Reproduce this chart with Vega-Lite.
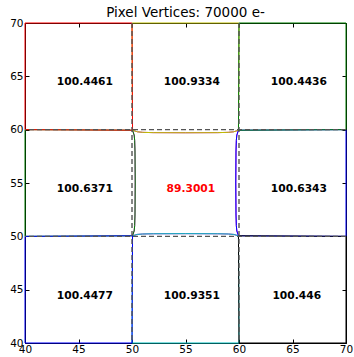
{
  "$schema": "https://vega.github.io/schema/vega-lite/v6.json",
  "width": 321,
  "height": 320,
  "autosize": {"type": "none"},
  "padding": {"left": 25, "top": 23, "right": 8, "bottom": 14},
  "title": {"text": "Pixel Vertices: 70000 e-", "font": "DejaVu Sans", "fontSize": 13.5, "fontWeight": "normal", "color": "black", "offset": -1},
  "config": {
    "view": {"stroke": "black", "strokeWidth": 1},
    "axis": {"labelFont": "DejaVu Sans", "labelFontSize": 10.5, "labelColor": "black", "tickColor": "black", "domain": false, "grid": false, "title": null, "tickSize": -4, "labelPadding": 5, "labelFlush": false, "labelOverlap": false}
  },
  "datasets": {
    "pix": [
      {"p": "c", "i": 0, "x": 50.05, "y": 50.05}, {"p": "c", "i": 1, "x": 50.5, "y": 50.18}, {"p": "c", "i": 2, "x": 51, "y": 50.22}, {"p": "c", "i": 3, "x": 52, "y": 50.24}, {"p": "c", "i": 4, "x": 55, "y": 50.25}, {"p": "c", "i": 5, "x": 58, "y": 50.24}, {"p": "c", "i": 6, "x": 59, "y": 50.22}, {"p": "c", "i": 7, "x": 59.5, "y": 50.18}, {"p": "c", "i": 8, "x": 59.95, "y": 50.05},
      {"p": "c", "i": 9, "x": 59.8, "y": 50.5}, {"p": "c", "i": 10, "x": 59.75, "y": 51}, {"p": "c", "i": 11, "x": 59.72, "y": 52}, {"p": "c", "i": 12, "x": 59.7, "y": 55}, {"p": "c", "i": 13, "x": 59.72, "y": 58}, {"p": "c", "i": 14, "x": 59.75, "y": 59}, {"p": "c", "i": 15, "x": 59.8, "y": 59.5}, {"p": "c", "i": 16, "x": 59.95, "y": 59.95},
      {"p": "c", "i": 17, "x": 59.5, "y": 59.8}, {"p": "c", "i": 18, "x": 59, "y": 59.75}, {"p": "c", "i": 19, "x": 58, "y": 59.72}, {"p": "c", "i": 20, "x": 55, "y": 59.71}, {"p": "c", "i": 21, "x": 52, "y": 59.72}, {"p": "c", "i": 22, "x": 51, "y": 59.75}, {"p": "c", "i": 23, "x": 50.5, "y": 59.8}, {"p": "c", "i": 24, "x": 50.05, "y": 59.95},
      {"p": "c", "i": 25, "x": 50.2, "y": 59.5}, {"p": "c", "i": 26, "x": 50.25, "y": 59}, {"p": "c", "i": 27, "x": 50.28, "y": 58}, {"p": "c", "i": 28, "x": 50.3, "y": 55}, {"p": "c", "i": 29, "x": 50.28, "y": 52}, {"p": "c", "i": 30, "x": 50.25, "y": 51}, {"p": "c", "i": 31, "x": 50.2, "y": 50.5}, {"p": "c", "i": 32, "x": 50.05, "y": 50.05},

      {"p": "tm", "i": 0, "x": 50, "y": 70}, {"p": "tm", "i": 1, "x": 50.05, "y": 59.95}, {"p": "tm", "i": 2, "x": 50.5, "y": 59.8}, {"p": "tm", "i": 3, "x": 51, "y": 59.75}, {"p": "tm", "i": 4, "x": 52, "y": 59.72}, {"p": "tm", "i": 5, "x": 55, "y": 59.71}, {"p": "tm", "i": 6, "x": 58, "y": 59.72}, {"p": "tm", "i": 7, "x": 59, "y": 59.75}, {"p": "tm", "i": 8, "x": 59.5, "y": 59.8}, {"p": "tm", "i": 9, "x": 59.95, "y": 59.95}, {"p": "tm", "i": 10, "x": 60, "y": 70}, {"p": "tm", "i": 11, "x": 50, "y": 70},

      {"p": "bm", "i": 0, "x": 50, "y": 40}, {"p": "bm", "i": 1, "x": 50.05, "y": 50.05}, {"p": "bm", "i": 2, "x": 50.5, "y": 50.18}, {"p": "bm", "i": 3, "x": 51, "y": 50.22}, {"p": "bm", "i": 4, "x": 52, "y": 50.24}, {"p": "bm", "i": 5, "x": 55, "y": 50.25}, {"p": "bm", "i": 6, "x": 58, "y": 50.24}, {"p": "bm", "i": 7, "x": 59, "y": 50.22}, {"p": "bm", "i": 8, "x": 59.5, "y": 50.18}, {"p": "bm", "i": 9, "x": 59.95, "y": 50.05}, {"p": "bm", "i": 10, "x": 60, "y": 40}, {"p": "bm", "i": 11, "x": 50, "y": 40},

      {"p": "ml", "i": 0, "x": 40, "y": 50}, {"p": "ml", "i": 1, "x": 50.05, "y": 50.05}, {"p": "ml", "i": 2, "x": 50.2, "y": 50.5}, {"p": "ml", "i": 3, "x": 50.25, "y": 51}, {"p": "ml", "i": 4, "x": 50.28, "y": 52}, {"p": "ml", "i": 5, "x": 50.3, "y": 55}, {"p": "ml", "i": 6, "x": 50.28, "y": 58}, {"p": "ml", "i": 7, "x": 50.25, "y": 59}, {"p": "ml", "i": 8, "x": 50.2, "y": 59.5}, {"p": "ml", "i": 9, "x": 50.05, "y": 59.95}, {"p": "ml", "i": 10, "x": 40, "y": 60}, {"p": "ml", "i": 11, "x": 40, "y": 50},

      {"p": "mr", "i": 0, "x": 70, "y": 50}, {"p": "mr", "i": 1, "x": 59.95, "y": 50.05}, {"p": "mr", "i": 2, "x": 59.8, "y": 50.5}, {"p": "mr", "i": 3, "x": 59.75, "y": 51}, {"p": "mr", "i": 4, "x": 59.72, "y": 52}, {"p": "mr", "i": 5, "x": 59.7, "y": 55}, {"p": "mr", "i": 6, "x": 59.72, "y": 58}, {"p": "mr", "i": 7, "x": 59.75, "y": 59}, {"p": "mr", "i": 8, "x": 59.8, "y": 59.5}, {"p": "mr", "i": 9, "x": 59.95, "y": 59.95}, {"p": "mr", "i": 10, "x": 70, "y": 60}, {"p": "mr", "i": 11, "x": 70, "y": 50},

      {"p": "tl", "i": 0, "x": 40, "y": 60}, {"p": "tl", "i": 1, "x": 50.05, "y": 59.95}, {"p": "tl", "i": 2, "x": 50, "y": 70}, {"p": "tl", "i": 3, "x": 40, "y": 70}, {"p": "tl", "i": 4, "x": 40, "y": 60},
      {"p": "tr", "i": 0, "x": 59.95, "y": 59.95}, {"p": "tr", "i": 1, "x": 70, "y": 60}, {"p": "tr", "i": 2, "x": 70, "y": 70}, {"p": "tr", "i": 3, "x": 60, "y": 70}, {"p": "tr", "i": 4, "x": 59.95, "y": 59.95},
      {"p": "bl", "i": 0, "x": 40, "y": 40}, {"p": "bl", "i": 1, "x": 50, "y": 40}, {"p": "bl", "i": 2, "x": 50.05, "y": 50.05}, {"p": "bl", "i": 3, "x": 40, "y": 50}, {"p": "bl", "i": 4, "x": 40, "y": 40},
      {"p": "br", "i": 0, "x": 60, "y": 40}, {"p": "br", "i": 1, "x": 70, "y": 40}, {"p": "br", "i": 2, "x": 70, "y": 50}, {"p": "br", "i": 3, "x": 59.95, "y": 50.05}, {"p": "br", "i": 4, "x": 60, "y": 40}
    ],
    "grid": [{"v": 50}, {"v": 60}],
    "labels": [
      {"x": 45.6, "y": 64.5, "label": "100.4461"},
      {"x": 55.6, "y": 64.5, "label": "100.9334"},
      {"x": 65.6, "y": 64.5, "label": "100.4436"},
      {"x": 45.6, "y": 54.45, "label": "100.6371"},
      {"x": 55.5, "y": 54.45, "label": "89.3001"},
      {"x": 65.6, "y": 54.45, "label": "100.6343"},
      {"x": 45.6, "y": 44.4, "label": "100.4477"},
      {"x": 55.6, "y": 44.4, "label": "100.9351"},
      {"x": 65.4, "y": 44.4, "label": "100.446"}
    ]
  },
  "layer": [
    {
      "data": {"name": "pix"},
      "mark": {"type": "line", "strokeWidth": 1, "clip": false},
      "encoding": {
        "x": {"field": "x", "type": "quantitative", "scale": {"domain": [40, 70], "nice": false, "zero": false}, "axis": {"orient": "bottom", "values": [40, 45, 50, 55, 60, 65, 70]}},
        "y": {"field": "y", "type": "quantitative", "scale": {"domain": [40, 70], "nice": false, "zero": false}, "axis": {"orient": "left", "values": [40, 45, 50, 55, 60, 65, 70], "labelPadding": 6}},
        "detail": {"field": "p"},
        "color": {"field": "p", "type": "nominal", "legend": null, "scale": {"domain": ["bl", "ml", "tl", "bm", "c", "tm", "br", "mr", "tr"], "range": ["#0000ff", "#008000", "#ff0000", "#00bfbf", "#bf00bf", "#bfbf00", "#000000", "#0000ff", "#008000"]}},
        "order": {"field": "i", "type": "quantitative"}
      }
    },
    {
      "data": {"name": "grid"},
      "mark": {"type": "rule", "color": "#555555", "strokeWidth": 1.4, "strokeDash": [5, 3]},
      "encoding": {
        "x": {"field": "v", "type": "quantitative", "axis": {"orient": "top", "values": [40, 45, 50, 55, 60, 65, 70], "labels": false}}
      }
    },
    {
      "data": {"name": "grid"},
      "mark": {"type": "rule", "color": "#555555", "strokeWidth": 1.4, "strokeDash": [5, 3]},
      "encoding": {
        "y": {"field": "v", "type": "quantitative", "axis": {"orient": "right", "values": [40, 45, 50, 55, 60, 65, 70], "labels": false}}
      }
    },
    {
      "data": {"name": "labels"},
      "mark": {"type": "text", "font": "DejaVu Sans", "fontSize": 10.7, "fontWeight": "bold", "baseline": "middle", "align": "center"},
      "encoding": {
        "x": {"field": "x", "type": "quantitative", "axis": null},
        "y": {"field": "y", "type": "quantitative", "axis": null},
        "text": {"field": "label"},
        "color": {"condition": {"test": "datum.label == '89.3001'", "value": "#ff0000"}, "value": "#000000"}
      }
    }
  ],
  "resolve": {"axis": {"x": "independent", "y": "independent"}}
}
